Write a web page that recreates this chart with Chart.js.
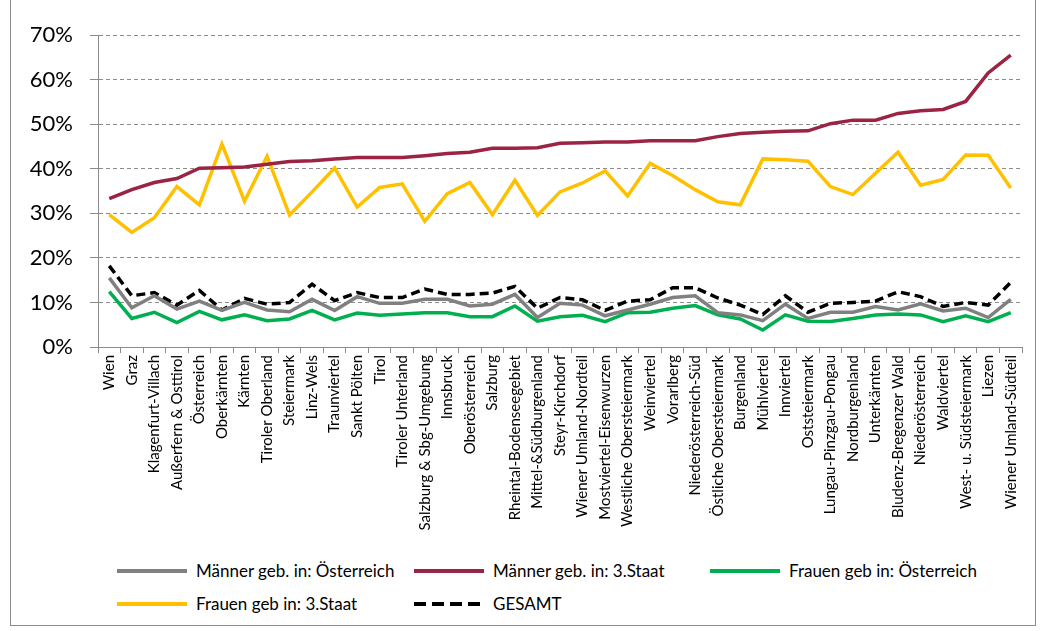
<!DOCTYPE html>
<html>
<head>
<meta charset="utf-8">
<script src="https://cdn.jsdelivr.net/npm/chart.js@4"></script>
<style>
  body { margin: 0; background: #fff; font-family: Lato, "Open Sans", sans-serif; }
  #frame { position: absolute; left: 10px; top: -2px; width: 1024px; height: 626px; border: 1px solid #8c8c8c; }
  #wrap { position: absolute; left: 0; top: 0; width: 1042px; height: 540px; }
  .leg { position: absolute; font-size: 17px; color: #000; white-space: nowrap; line-height: 20px; }
  .leg i { position: absolute; left: 0; top: 8px; width: 70px; height: 4px; }
  .leg span { position: absolute; left: 79px; top: 0; }
</style>
</head>
<body>
<div id="frame"></div>
<div id="wrap"><canvas id="lineChart"></canvas></div>
<div id="legend"></div>
<script>
// Regions (sorted by Männer geb. in 3.Staat)
const regions = ['Wien', 'Graz', 'Klagenfurt-Villach', 'Außerfern & Osttirol', 'Österreich', 'Oberkärnten',
    'Kärnten', 'Tiroler Oberland', 'Steiermark', 'Linz-Wels', 'Traunviertel', 'Sankt Pölten', 'Tirol',
    'Tiroler Unterland', 'Salzburg & Sbg-Umgebung', 'Innsbruck', 'Oberösterreich', 'Salzburg',
    'Rheintal-Bodenseegebiet', 'Mittel-&Südburgenland', 'Steyr-Kirchdorf', 'Wiener Umland-Nordteil',
    'Mostviertel-Eisenwurzen', 'Westliche Obersteiermark', 'Weinviertel', 'Vorarlberg',
    'Niederösterreich-Süd', 'Östliche Obersteiermark', 'Burgenland', 'Mühlviertel', 'Innviertel',
    'Oststeiermark', 'Lungau-Pinzgau-Pongau', 'Nordburgenland', 'Unterkärnten', 'Bludenz-Bregenzer Wald',
    'Niederösterreich', 'Waldviertel', 'West- u. Südsteiermark', 'Liezen', 'Wiener Umland-Südteil'];

// values in %
const maennerAT = [15.5, 8.8, 11.5, 8.5, 10.3, 8.2, 10.0, 8.3, 7.9, 10.7, 8.2, 11.3, 9.8, 9.8,
    10.7, 10.7, 9.2, 9.6, 11.8, 6.6, 9.8, 9.4, 7.0, 8.3, 9.6, 11.1, 11.5, 7.7,
    7.2, 5.9, 9.6, 6.4, 7.8, 7.8, 9.1, 8.3, 9.7, 8.1, 8.7, 6.6, 10.7];
const maenner3 = [33.3, 35.3, 36.9, 37.8, 40.1, 40.2, 40.4, 41.0, 41.6, 41.8, 42.2, 42.5, 42.5, 42.5,
    42.9, 43.4, 43.7, 44.6, 44.6, 44.7, 45.7, 45.8, 46.0, 46.0, 46.3, 46.3, 46.3, 47.2,
    47.9, 48.2, 48.4, 48.5, 50.1, 50.9, 50.9, 52.4, 53.0, 53.3, 55.1, 61.5, 65.5];
const frauenAT = [12.4, 6.4, 7.8, 5.5, 8.0, 6.1, 7.2, 5.9, 6.3, 8.2, 6.1, 7.6, 7.1, 7.4,
    7.7, 7.7, 6.8, 6.8, 9.2, 5.8, 6.8, 7.1, 5.7, 7.7, 7.8, 8.7, 9.3, 7.2,
    6.3, 3.8, 7.2, 5.8, 5.7, 6.4, 7.2, 7.4, 7.2, 5.7, 7.0, 5.7, 7.7];
const frauen3 = [29.7, 25.7, 29.0, 36.0, 31.9, 45.5, 32.7, 42.8, 29.6, 34.8, 40.2, 31.4, 35.8, 36.6,
    28.2, 34.4, 36.9, 29.7, 37.4, 29.5, 34.8, 36.8, 39.5, 33.9, 41.2, 38.5, 35.3, 32.6,
    31.9, 42.2, 42.0, 41.7, 36.0, 34.2, 39.0, 43.7, 36.3, 37.6, 43.1, 43.0, 35.7];
const gesamt = [18.2, 11.5, 12.2, 9.4, 12.7, 8.3, 10.9, 9.6, 10.0, 14.1, 10.4, 12.2, 11.1, 11.1,
    13.0, 11.8, 11.8, 12.1, 13.6, 8.7, 11.1, 10.6, 8.2, 10.3, 10.6, 13.3, 13.3, 11.0,
    9.4, 7.3, 11.5, 7.8, 9.8, 10.0, 10.3, 12.4, 11.3, 9.1, 10.0, 9.4, 14.5];

const yTicks = [0, 10, 20, 30, 40, 50, 60, 70];

const series = [
    { label: 'Männer geb. in: Österreich', data: maennerAT, color: '#808080' },
    { label: 'Männer geb. in: 3.Staat', data: maenner3, color: '#9b2343' },
    { label: 'Frauen geb in: Österreich', data: frauenAT, color: '#00b050' },
    { label: 'Frauen geb in: 3.Staat', data: frauen3, color: '#ffc000' },
    { label: 'GESAMT', data: gesamt, color: '#000000', dash: [9, 5] }
];

Chart.defaults.font.family = 'Lato, "Open Sans", sans-serif';
Chart.defaults.color = '#000';

const ctx = document.getElementById('lineChart').getContext('2d');
new Chart(ctx, {
    type: 'line',
    data: {
        labels: regions,
        datasets: series.map(s => ({
            label: s.label,
            data: s.data,
            borderColor: s.color,
            backgroundColor: s.color,
            borderWidth: 3.5,
            borderDash: s.dash || [],
            pointRadius: 0,
            tension: 0,
            fill: false
        }))
    },
    options: {
        responsive: true,
        maintainAspectRatio: false,
        animation: false,
        layout: { padding: { top: 35, right: 20, left: 0, bottom: 0 } },
        plugins: { legend: { display: false }, tooltip: { enabled: false } },
        scales: {
            x: {
                offset: true,
                grid: { offset: true, drawOnChartArea: false, drawTicks: true, tickLength: 6, color: '#8c8c8c' },
                border: { display: true, color: '#8c8c8c' },
                ticks: { autoSkip: false, maxRotation: 90, minRotation: 90, padding: 2, font: { size: 15 } },
                afterFit: s => { s.height = 193; }
            },
            y: {
                min: 0,
                max: 70,
                afterBuildTicks: s => { s.ticks = yTicks.map(v => ({ value: v })); },
                grid: { color: '#8c8c8c', tickLength: 8 },
                border: { display: true, color: '#8c8c8c', dash: [4, 3] },
                ticks: { padding: 17, font: { size: 22 }, callback: v => v + '%' },
                afterFit: s => { s.width = 98; }
            }
        }
    }
});

// legend laid out in columns like the original
const legendPos = [[117, 561], [414, 561], [710, 561], [117, 594], [414, 594]];
const legend = document.getElementById('legend');
series.forEach((s, i) => {
    const d = document.createElement('div');
    d.className = 'leg';
    d.style.left = legendPos[i][0] + 'px';
    d.style.top = legendPos[i][1] + 'px';
    const bg = s.dash
        ? 'repeating-linear-gradient(90deg,' + s.color + ' 0 12px, transparent 12px 18px)'
        : s.color;
    d.innerHTML = '<i style="background:' + bg + '"></i><span>' + s.label + '</span>';
    legend.appendChild(d);
});
</script>
</body>
</html>
